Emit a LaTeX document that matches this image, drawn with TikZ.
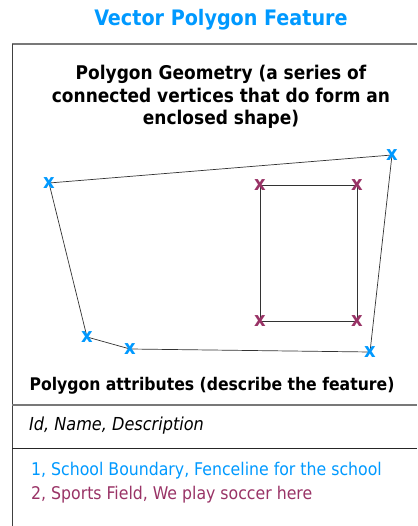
\documentclass[tikz,border=0pt]{standalone}
\usepackage{fontspec}
\setmainfont{DejaVu Sans Condensed}
\definecolor{vblue}{RGB}{0,153,255}
\definecolor{vplum}{RGB}{153,51,102}
\definecolor{frame}{RGB}{120,120,120}
\begin{document}
\begin{tikzpicture}[x=1pt,y=-1pt,
  vtx/.style={inner sep=0pt,font=\fontsize{20}{20}\selectfont\bfseries},
  bv/.style={vtx,text=vblue},
  pv/.style={vtx,text=vplum},
  edge/.style={draw=black!80,line width=0.7pt},
  head/.style={font=\fontsize{18.9}{22.5}\selectfont\bfseries,align=center,inner sep=0pt},
  body/.style={font=\fontsize{17.5}{18}\selectfont,inner sep=0pt,anchor=west}]
\useasboundingbox (0,0) rectangle (417,526);
% frame
\draw[frame,line width=1.6pt] (12,44) -- (417,44);
\draw[black!75,line width=0.8pt] (12,44) -- (12,526);
\draw[frame,line width=1.2pt] (12,405) -- (417,405);
\draw[black!85,line width=0.8pt] (12,448) -- (417,448);
% title
\node[font=\fontsize{21.3}{24}\selectfont\bfseries,text=vblue,inner sep=0pt] (title) at (221,20) {Vector Polygon Feature};
\node[head] (geom) at (221,97) {Polygon Geometry (a series of\\connected vertices that do form an\\enclosed shape)};
% coordinates of vertices
\coordinate (b1) at (49,183);
\coordinate (b2) at (392,155);
\coordinate (b3) at (370,352);
\coordinate (b4) at (130,349);
\coordinate (b5) at (87,337);
\coordinate (p1) at (260,185);
\coordinate (p2) at (357,185);
\coordinate (p3) at (357,321);
\coordinate (p4) at (260,321);
\draw[edge] (b1) -- (b2) -- (b3) -- (b4) -- (b5) -- cycle;
\draw[edge] (p1) -- (p2) -- (p3) -- (p4) -- cycle;
\foreach \v in {b1,b2,b3,b4,b5} \node[bv] (x\v) at (\v) {x};
\foreach \v in {p1,p2,p3,p4} \node[pv] (x\v) at (\v) {x};
% attributes
\node[font=\fontsize{17.4}{18}\selectfont\bfseries,inner sep=0pt] (attr) at (212,386) {Polygon attributes (describe the feature)};
\node[body,font=\fontsize{17.9}{18}\selectfont\itshape] (fields) at (29,426) {Id, Name, Description};
\node[body,text=vblue] (r1) at (31,471) {1, School Boundary, Fenceline for the school};
\node[body,text=vplum] (r2) at (31,495) {2, Sports Field, We play soccer here};
\end{tikzpicture}
\end{document}
